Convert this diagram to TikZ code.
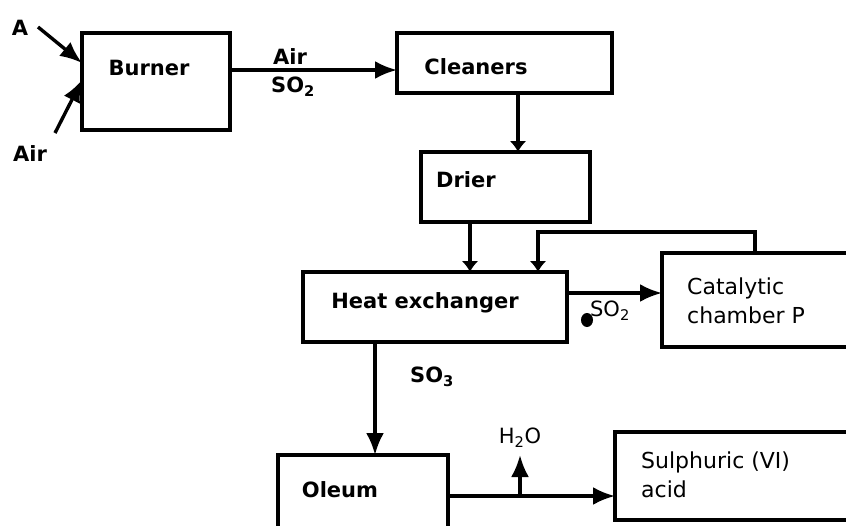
\documentclass[tikz,border=0pt]{standalone}
\usepackage{fontspec}
\setmainfont{DejaVu Sans}
\usetikzlibrary{arrows.meta}
\begin{document}
\begin{tikzpicture}[x=1pt,y=-1pt,
  box/.style={draw,line width=3.4pt,anchor=north west,inner sep=0pt,outer sep=0pt},
  arr/.style={line width=3.4pt,-{Latex[length=22pt,width=18pt]}},
  sarr/.style={line width=3.4pt,-{Latex[length=11pt,width=17pt]}},
  bt/.style={font=\fontsize{21}{25}\selectfont\bfseries,inner sep=0pt},
  rt/.style={font=\fontsize{22}{29}\selectfont,inner sep=0pt,align=left},
  st/.style={font=\fontsize{21}{25}\selectfont,inner sep=0pt}]
\clip (0,0) rectangle (846,525);
\fill[white] (0,0) rectangle (846,525);
% boxes
\node[box,minimum width=148pt,minimum height=97pt] (burner) at (82,33) {};
\node[box,minimum width=215pt,minimum height=60pt] (cleaners) at (397,33) {};
\node[box,minimum width=169pt,minimum height=70pt] (drier) at (421,152) {};
\node[box,minimum width=264pt,minimum height=70pt] (heat) at (303,272) {};
\node[box,minimum width=220pt,minimum height=94pt] (cat) at (662,253) {};
\node[box,minimum width=170pt,minimum height=105pt] (oleum) at (278,455) {};
\node[box,minimum width=265pt,minimum height=88pt] (sulph) at (615,432) {};
% texts in boxes
\node[bt] (tburner) at (149,68) {Burner};
\node[bt] (tcleaners) at (476,67) {Cleaners};
\node[bt] (tdrier) at (466,180) {Drier};
\node[bt] (theat) at (425,303) {Heat exchanger};
\node[rt,anchor=west] (tcat) at (687,301) {Catalytic\\chamber P};
\node[bt] (toleum) at (340,490) {Oleum};
\node[rt,anchor=west] (tsulph) at (641,475) {Sulphuric (VI)\\acid};
% free labels
\node[bt] (lA) at (20,28) {A};
\node[bt] (lAir) at (30,154) {Air};
\node[bt] (lAir2) at (290,57) {Air};
\node[bt] (lSO2a) at (293,87) {SO\textsubscript{2}};
\node[st] (lSO2b) at (610,311) {SO\textsubscript{2}};
\node[bt] (lSO3) at (432,377) {SO\textsubscript{3}};
\node[st] (lH2O) at (520,438) {H\textsubscript{2}O};
% free ends
\coordinate (aStart) at (38,27);
\coordinate (airStart) at (55,133);
\coordinate (h2oEnd) at (520,455);
% connectors
\draw[arr] (aStart) -- (burner.west |- 0,63);
\draw[arr] (airStart) -- (burner.west |- 0,80);
\draw[arr] (burner.east |- 0,70) -- (cleaners.west |- 0,70);
\draw[sarr] (cleaners.south -| 518,0) -- (drier.north -| 518,0);
\draw[sarr] (drier.south -| 470,0) -- (heat.north -| 470,0);
\draw[sarr] (cat.north -| 755,0) |- (538,232) -- (heat.north -| 538,0);
\draw[arr] (heat.east |- 0,293) -- (cat.west |- 0,293);
\draw[arr] (heat.south -| 375,0) -- (oleum.north -| 375,0);
\draw[arr] (oleum.east |- 0,496) -- (sulph.west |- 0,496);
\draw[arr] (520,496) -- (h2oEnd);
% smudge
\fill (587,320) ellipse (6pt and 7pt);
\end{tikzpicture}
\end{document}
